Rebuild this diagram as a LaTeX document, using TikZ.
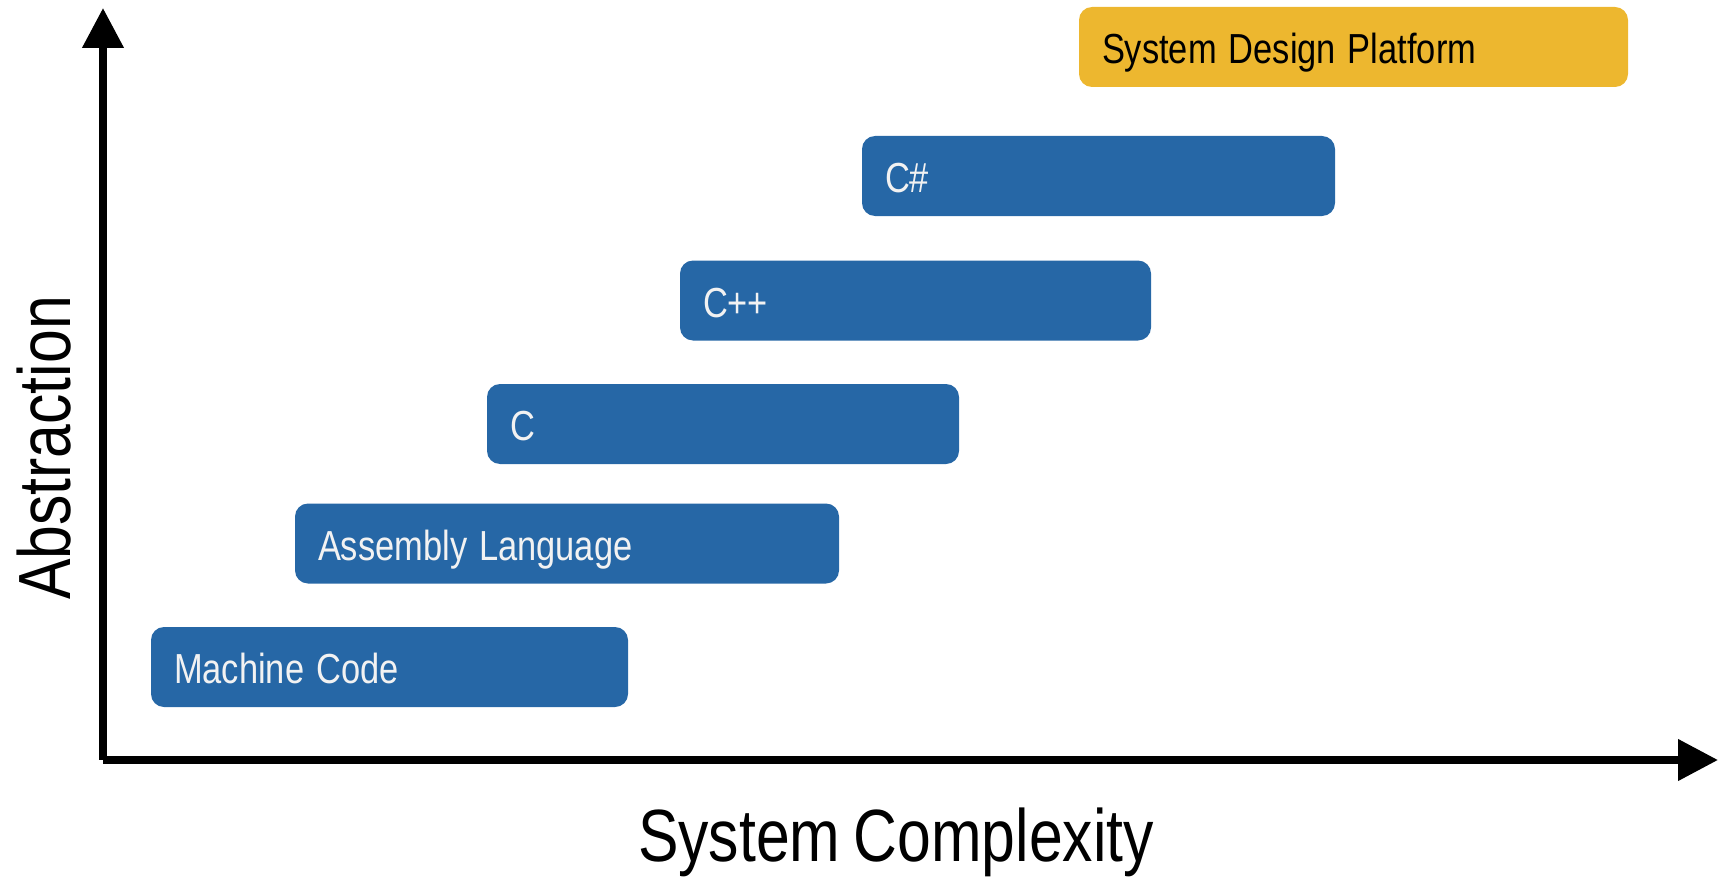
\documentclass[tikz,border=0pt]{standalone}
\usepackage{fontspec}
\setmainfont[FakeStretch=0.82, WordSpace=0.8]{Liberation Sans}
\usetikzlibrary{arrows.meta}
\definecolor{langblue}{HTML}{2667A6}
\definecolor{platgold}{HTML}{EDB72F}
\definecolor{labelwhite}{HTML}{F2F2F2}
% gap between words inside the boxes
\newcommand{\wgap}{\hspace{12pt}}
\tikzset{
  langbox/.style={rectangle, rounded corners=13pt, fill=langblue, text=labelwhite,
    minimum height=80pt, inner xsep=23pt, inner ysep=0pt, align=left,
    font=\fontsize{42pt}{42pt}\selectfont, text height=33pt, text depth=0pt},
  platbox/.style={langbox, fill=platgold, text=black},
  axis/.style={line width=7.5pt, -{Triangle[length=40pt,width=40pt]}},
  axislabel/.style={font=\fontsize{74pt}{74pt}\selectfont, inner sep=0pt}
}
\begin{document}
\begin{tikzpicture}[x=1pt, y=-1pt]
  \useasboundingbox (0,0) rectangle (1719,880);

  % axes
  \coordinate (origin) at (103,759.5);
  \coordinate (ytip) at (103,8);
  \coordinate (xstart) at (103,760);
  \coordinate (xtip) at (1718,760);
  \draw[axis] (origin) -- (ytip);
  \draw[axis] (xstart) -- (xtip);

  % axis labels
  \node[axislabel, rotate=90, text height=53pt, text depth=0pt] (abstr) at (44,448) {Abstraction};
  \node[axislabel, text height=53pt, text depth=0pt] (cplx) at (896,835) {System Complexity};

  % language levels
  \node[langbox, text width=477pt-46pt] (mc)  at (389.5,667) {Machine\wgap Code};
  \node[langbox, text width=544pt-46pt] (asm) at (567,543.5) {Assembly\wgap Language};
  \node[langbox, text width=472pt-46pt] (c)   at (723,424) {C};
  \node[langbox, text width=471pt-46pt] (cpp) at (915.5,300.5) {C++};
  \node[langbox, text width=473pt-46pt] (cs)  at (1098.5,176) {C\#};
  \node[platbox, text width=549pt-46pt] (sdp) at (1353.5,47) {System\wgap Design\wgap Platform};
\end{tikzpicture}
\end{document}
